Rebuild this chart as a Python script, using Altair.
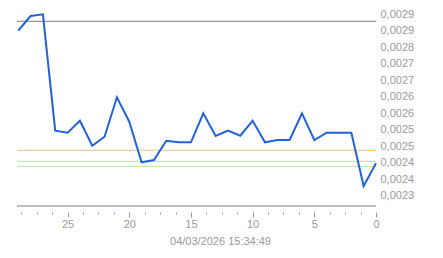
import altair as alt
import pandas as pd

# ---- data ----
days = [29, 28, 27, 26, 25, 24, 23, 22, 21, 20, 19, 18, 17, 16, 15,
        14, 13, 12, 11, 10, 9, 8, 7, 6, 5, 4, 3, 2, 1, 0]
rate = [0.0028523, 0.0028995, 0.0029049, 0.0025315, 0.0025251, 0.0025636,
        0.0024834, 0.0025122, 0.0026386, 0.0025604, 0.0024301, 0.0024375,
        0.0024994, 0.0024943, 0.0024943, 0.0025873, 0.0025145, 0.0025315,
        0.0025154, 0.0025636, 0.0024943, 0.0025016, 0.0025016, 0.0025873,
        0.0025016, 0.0025251, 0.0025251, 0.0025251, 0.0023541, 0.0024269]

ref_names = ["high", "avg", "low1", "low2"]
ref_levels = [0.0028825, 0.0024686, 0.0024333, 0.0024173]
ref_colors = ["#7f7f7f", "#ebc87c", "#b5e2a6", "#b5e2a6"]

x_ticks = [0, 1.25, 2.5, 3.75, 5, 6.25, 7.5, 8.75, 10, 11.25, 12.5, 13.75,
           15, 16.25, 17.5, 18.75, 20, 21.25, 22.5, 23.75, 25, 26.25, 27.5, 28.75]
y_ticks = [0.002322, 0.002375, 0.002428, 0.002481, 0.002534, 0.002587,
           0.002640, 0.002693, 0.002746, 0.002799, 0.002852, 0.002905]
x_title = "04/03/2026 15:34:49"

W, H = 359, 202
FONT = "Liberation Sans"
GRAY = "#9a9a9a"

df = pd.DataFrame({"day": days, "rate": rate})
refs = pd.DataFrame({"name": ref_names, "level": ref_levels, "color": ref_colors})

x_scale = alt.Scale(domain=[0, 29.1], reverse=True, nice=False, zero=False)
y_scale = alt.Scale(domain=[0.0022899, 0.002938], nice=False, zero=False)

x_axis = alt.Axis(values=x_ticks, domain=False, grid=False, offset=6,
                  tickColor=GRAY,
                  tickSize={"condition": {"test": "datum.value % 5 === 0", "value": 5}, "value": 2},
                  labelExpr="datum.value % 5 === 0 ? datum.value : ''",
                  labelFont=FONT, labelFontSize=11, labelColor=GRAY,
                  labelPadding=1, labelFlush=False, labelOverlap=False,
                  title=x_title, titleFont=FONT, titleFontSize=11,
                  titleFontWeight="normal", titleColor=GRAY, titlePadding=6,
                  titleX=203, titleAlign="center")
y_axis = alt.Axis(orient="right", values=y_ticks, domain=False, ticks=False,
                  grid=False, labelPadding=4,
                  labelExpr="replace(format(datum.value, '.4f'), '.', ',')",
                  labelFont=FONT, labelFontSize=11, labelColor=GRAY,
                  labelOverlap=False, labelFlush=False, title=None)

line = alt.Chart(df).mark_line(color="#2461d8", strokeWidth=2).encode(
    x=alt.X("day:Q", scale=x_scale, axis=x_axis),
    y=alt.Y("rate:Q", scale=y_scale, axis=y_axis),
)

rules = alt.Chart(refs).mark_rule(strokeWidth=1).encode(
    y=alt.Y("level:Q", scale=y_scale, axis=y_axis),
    color=alt.Color("color:N", scale=None),
)

# bottom axis line of the plot area
baseline = alt.Chart(pd.DataFrame({"a": [0]})).mark_rule(
    color="#7f7f7f", strokeWidth=1
).encode(y=alt.value(H))

chart = alt.layer(rules, baseline, line).properties(
    width=W, height=H,
    background="white",
    autosize=alt.AutoSizeParams(type="none"),
    padding={"left": 17, "top": 4, "right": 67, "bottom": 52},
).configure_view(stroke=None)

chart.save("out.html", embed_options={"renderer": "svg", "actions": False})
